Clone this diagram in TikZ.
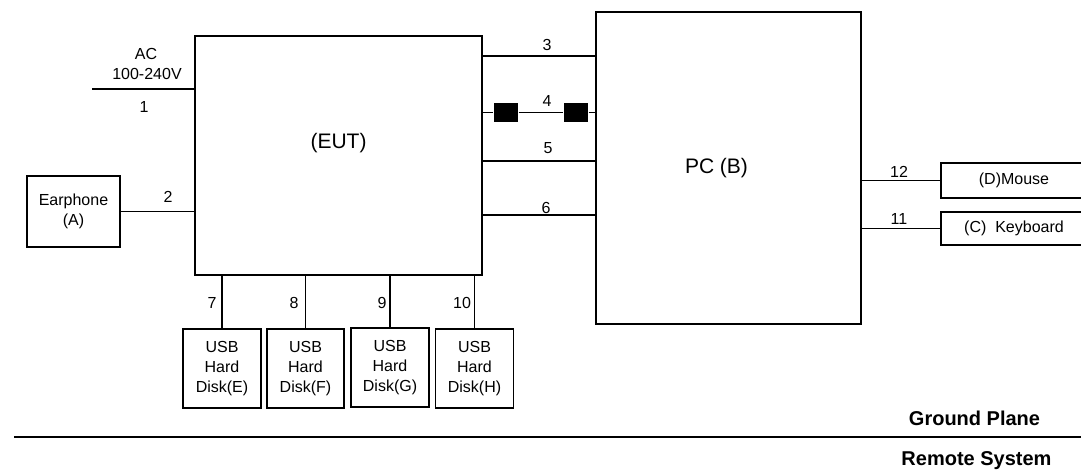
\documentclass[tikz,border=0pt]{standalone}
\usepackage{fontspec}
\setmainfont{Liberation Sans}
\usepackage{tikz}

\begin{document}
\begin{tikzpicture}[x=1pt,y=-1pt,line width=1.2pt,
					box/.style={draw,line width=1.8pt,inner sep=0pt,outer sep=0pt,align=center,font=\fontsize{16}{20}\selectfont},
					disk/.style={box,minimum width=78pt,minimum height=79pt},
					plug/.style={fill=black,inner sep=0pt,minimum width=24pt,minimum height=19pt},
					lbl/.style={inner sep=0pt,font=\fontsize{16}{20}\selectfont},
					big/.style={inner sep=0pt,font=\fontsize{21}{24}\selectfont},
					gnd/.style={inner sep=0pt,anchor=base,font=\bfseries\fontsize{20}{24}\selectfont}]
					
					\useasboundingbox (0,0) rectangle (1081,470);
					
					\node[box,minimum width=287pt,minimum height=239pt] (eut) at (338.5,155.5) {};
					\node[big] (eutl) at ([yshift=12pt]eut.center) {(EUT)};
					\node[box,minimum width=265pt,minimum height=312pt] (pc) at (728.5,168) {};
					\node[big] (pcl) at ([xshift=-12pt]pc.center) {PC (B)};
					\node[box,minimum width=93pt,minimum height=71pt] (ear) at (73.5,211.5) {Earphone\\(A)};
					\node[box,minimum width=146pt,minimum height=35pt] (mouse) at (1014,180.5) {(D)Mouse};
					\node[box,minimum width=146pt,minimum height=33pt] (kbd) at (1014,228.5) {(C)\ \ Keyboard};
					\node[disk] (e) at (222,368.5) {USB\\Hard\\Disk(E)};
					\node[disk,minimum width=77pt] (f) at (305.5,368.5) {USB\\Hard\\Disk(F)};
					\node[disk] (g) at (390,367.5) {USB\\Hard\\Disk(G)};
					\node[disk] (h) at (474.5,368.5) {USB\\Hard\\Disk(H)};
					\node[plug] (p1) at (506,112.5) {};
					\node[plug] (p2) at (576,112.5) {};
					
					\coordinate (ac) at (92,89);
					\coordinate (c3) at (0,56);
					\coordinate (c5) at (0,161);
					\coordinate (c6) at (0,215);
					\coordinate (g1) at (14,437);
					\coordinate (g2) at (1081,437);
					
					\draw (ac) -- (ac -| eut.west);
					\draw (ear.east) -- (ear.east -| eut.west);
					\draw (eut.east |- c3) -- (pc.west |- c3);
					\draw (eut.east |- p1) -- (p1) -- (p2) -- (pc.west |- p2);
					\draw (eut.east |- c5) -- (pc.west |- c5);
					\draw (eut.east |- c6) -- (pc.west |- c6);
					\draw (pc.east |- mouse.west) -- (mouse.west);
					\draw (pc.east |- kbd.west) -- (kbd.west);
					\draw (e.north) -- (e.north |- eut.south);
					\draw (f.north) -- (f.north |- eut.south);
					\draw (g.north) -- (g.north |- eut.south);
					\draw (h.north) -- (h.north |- eut.south);
					\draw[line width=1.8pt] (g1) -- (g2);
					
					\node[lbl] (acl) at (146,54) {AC};
					\node[lbl] (vl) at (147,74) {100-240V};
					\node[lbl] (n1) at (144,107) {1};
					\node[lbl] (n2) at (168,197) {2};
					\node[lbl] (n3) at (547,45) {3};
					\node[lbl] (n4) at (547,101) {4};
					\node[lbl] (n5) at (548,148) {5};
					\node[lbl] (n6) at (546,208) {6};
					\node[lbl] (n7) at (212,303) {7};
					\node[lbl] (n8) at (294,303) {8};
					\node[lbl] (n9) at (382,303) {9};
					\node[lbl] (n10) at (462,303) {10};
					\node[lbl] (n11) at (899,219) {11};
					\node[lbl] (n12) at (899,172) {12};
					\node[gnd] (gp) at (974.5,425) {Ground Plane};
					\node[gnd] (rs) at (976.5,465) {Remote System};
\end{tikzpicture}
\end{document}
